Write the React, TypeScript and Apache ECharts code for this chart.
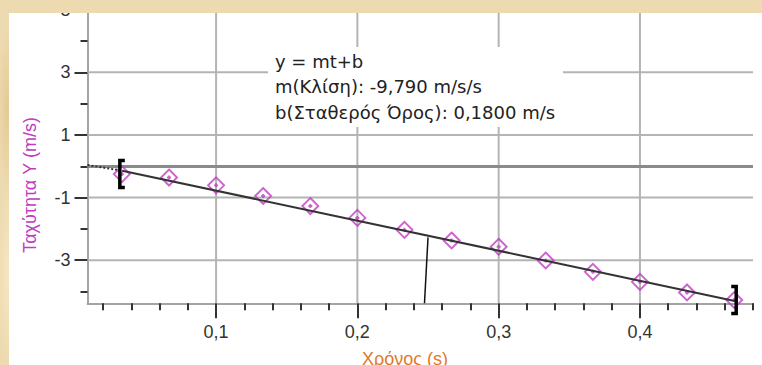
import React, { useEffect, useRef } from 'react';
import * as echarts from 'echarts';

// ---- data ----
const timeValues = [0.0333, 0.0667, 0.1, 0.1333, 0.1667, 0.2, 0.2333, 0.2667, 0.3, 0.3333, 0.3667, 0.4, 0.4333, 0.4667];
const velocityValues = [-0.25, -0.36, -0.61, -0.95, -1.27, -1.65, -2.03, -2.37, -2.57, -3.01, -3.37, -3.69, -4.03, -4.27];

const fitTimes = [0.009, 0.0335, 0.467];
const fitValues = [0.04, -0.14, -4.3];

const cursorTimes = [0.25, 0.2475];
const cursorValues = [-2.27, -4.376];

const xMajorTicks = [0.1, 0.2, 0.3, 0.4];
const xMinorTicks = [0.02, 0.04, 0.06, 0.08, 0.12, 0.14, 0.16, 0.18, 0.22, 0.24, 0.26, 0.28, 0.32, 0.34, 0.36, 0.38, 0.42, 0.44, 0.46, 0.48];
const yMajorTicks = [5, 3, 1, -1, -3];
const yMinorTicks = [4, 2, 0, -2, -4];
const yGridLines = [3, 1, -1, -3];
const xGridLines = [0.1, 0.2, 0.3, 0.4];

const xMin = 0.009;
const xMax = 0.48;
const yMin = -4.376;
const yMax = 5;

const annotationLines = ['y = mt+b', 'm(Κλίση): -9,790 m/s/s', 'b(Σταθερός Όρος): 0,1800 m/s'];
const yAxisTitle = 'Ταχύτητα Y (m/s)';
const xAxisTitle = 'Χρόνος (s)';

const FONT = '"Liberation Sans", Arial, sans-serif';
const WIDE_FONT = '"DejaVu Sans", Verdana, sans-serif';
const MAGENTA = '#c03cc0';

const parchment: React.CSSProperties = {
  backgroundColor: '#eedab0',
  backgroundImage: [
    'radial-gradient(ellipse 60px 20px at 12% 40%, rgba(215,180,115,0.55), transparent)',
    'radial-gradient(ellipse 80px 18px at 30% 20%, rgba(250,236,200,0.8), transparent)',
    'radial-gradient(ellipse 70px 15px at 48% 60%, rgba(220,188,125,0.5), transparent)',
    'radial-gradient(ellipse 90px 20px at 70% 30%, rgba(248,232,195,0.8), transparent)',
    'radial-gradient(ellipse 60px 14px at 88% 50%, rgba(218,184,120,0.5), transparent)',
    'radial-gradient(ellipse 10px 80px at 1% 30%, rgba(222,190,130,0.6), transparent)',
    'radial-gradient(ellipse 10px 90px at 1% 75%, rgba(248,232,198,0.8), transparent)',
  ].join(','),
  backgroundAttachment: 'fixed',
};

const diamondSymbol = 'path://M8,0 L16,8 L8,16 L0,8 Z M8,6 L8,10 M6,8 L10,8';

export default function App() {
  const ref = useRef<HTMLDivElement>(null);

  useEffect(() => {
    if (!ref.current) return;
    const chart = echarts.init(ref.current, null, { renderer: 'svg' });

    const points = timeValues.map((t, i) => [t, velocityValues[i]]);
    const fitPoints = fitTimes.map((t, i) => [t, fitValues[i]]);
    const cursorPoints = cursorTimes.map((t, i) => [t, cursorValues[i]]);
    const last = timeValues.length - 1;
    const bracketData = [
      [timeValues[0], velocityValues[0], -1],
      [timeValues[last], velocityValues[last], 1],
    ];

    const fmt = (v: number) => (Math.abs(v) < 1 && v !== 0 ? v.toFixed(1) : String(v)).replace('.', ',');

    const makeX = (major: boolean) => ({
      type: 'value',
      position: 'bottom',
      min: xMin,
      max: xMax,
      axisLine: { show: major, onZero: false, lineStyle: { color: '#a4a4a4', width: 2 } },
      axisTick: {
        show: true,
        customValues: major ? xMajorTicks : xMinorTicks,
        length: major ? 15 : 7,
        lineStyle: { color: '#333', width: 2 },
      },
      axisLabel: major
        ? { show: true, customValues: xMajorTicks, formatter: fmt, margin: 20, color: '#333', fontSize: 18, fontFamily: FONT }
        : { show: false },
      splitLine: { show: false },
    });

    const makeY = (major: boolean) => ({
      type: 'value',
      position: 'left',
      min: yMin,
      max: yMax,
      axisLine: { show: major, onZero: false, lineStyle: { color: '#a4a4a4', width: 2 } },
      axisTick: {
        show: true,
        customValues: major ? yMajorTicks : yMinorTicks,
        length: major ? 13 : 7,
        lineStyle: { color: '#333', width: 2 },
      },
      axisLabel: major
        ? { show: true, customValues: yMajorTicks, formatter: fmt, margin: 17, color: '#333', fontSize: 18, fontFamily: FONT }
        : { show: false },
      splitLine: { show: false },
    });

    const gridSeries = (data: number[][]) => ({
      type: 'line',
      data,
      showSymbol: false,
      symbol: 'none',
      silent: true,
      z: 4,
      lineStyle: { color: '#b4b4b4', width: 2, type: 'solid' },
    });

    chart.setOption({
      animation: false,
      grid: { left: 87.5, right: 9, top: 9.7, bottom: 61.7, containLabel: false, outerBoundsMode: 'none' },
      xAxis: [makeX(true), makeX(false)],
      yAxis: [makeY(true), makeY(false)],
      series: [
        ...yGridLines.map((v) => gridSeries([[xMin, v], [xMax, v]])),
        ...xGridLines.map((v) => gridSeries([[v, yMin], [v, yMax]])),
        {
          type: 'scatter',
          data: points,
          symbol: diamondSymbol,
          symbolSize: 16,
          itemStyle: { color: 'rgba(0,0,0,0)', borderColor: MAGENTA, borderWidth: 1.9 },
          z: 7,
          silent: true,
        },
        {
          type: 'line',
          data: fitPoints.slice(0, 2),
          showSymbol: false,
          symbol: 'none',
          lineStyle: { color: '#333', width: 2, type: 'dotted' },
          z: 8,
          silent: true,
        },
        {
          type: 'line',
          data: fitPoints.slice(1),
          showSymbol: false,
          symbol: 'none',
          lineStyle: { color: '#333', width: 2, type: 'solid' },
          z: 8,
          silent: true,
          markLine: {
            silent: true,
            z: 5,
            symbol: 'none',
            label: { show: false },
            lineStyle: { color: '#8a8a8a', width: 3, type: 'solid' },
            data: [{ yAxis: 0 }],
          },
        },
        {
          type: 'line',
          data: cursorPoints,
          showSymbol: false,
          symbol: 'none',
          lineStyle: { color: '#111', width: 1.5 },
          z: 8,
          silent: true,
        },
        {
          type: 'custom',
          clip: false,
          z: 9,
          silent: true,
          data: bracketData,
          renderItem: (params: any, api: any) => {
            const c = api.coord([api.value(0), api.value(1)]);
            const dir = api.value(2);
            const x = c[0] + dir * 2;
            const y = c[1];
            const h = 13.5;
            return {
              type: 'polyline',
              shape: {
                points: [
                  [x - dir * 5, y - h],
                  [x, y - h],
                  [x, y + h],
                  [x - dir * 5, y + h],
                ],
              },
              style: { stroke: '#000', lineWidth: 3.5, fill: 'none' },
            };
          },
        },
      ],
      graphic: [
        { type: 'rect', z: 5, silent: true, shape: { x: 268, y: 47, width: 295, height: 80 }, style: { fill: '#fff' } },
        ...annotationLines.map((t, i) => ({
          type: 'text',
          z: 6,
          silent: true,
          x: 275,
          y: 61 + i * 25.5,
          style: { text: t, fill: '#222', font: `18px ${WIDE_FONT}`, align: 'left', verticalAlign: 'middle' },
        })),
        {
          type: 'text',
          z: 6,
          silent: true,
          x: 30,
          y: 185,
          rotation: Math.PI / 2,
          style: { text: yAxisTitle, fill: MAGENTA, font: `18px ${FONT}`, align: 'center', verticalAlign: 'middle' },
        },
        {
          type: 'text',
          z: 6,
          silent: true,
          x: 405,
          y: 359,
          style: { text: xAxisTitle, fill: '#e07a2a', font: `18px ${FONT}`, align: 'center', verticalAlign: 'middle' },
        },
      ],
    });

    return () => chart.dispose();
  }, []);

  return (
    <div style={{ position: 'fixed', left: 0, top: 0, width: 762, height: 365, overflow: 'hidden', ...parchment }}>
      <div style={{ position: 'absolute', left: 9, top: 13, right: 0, bottom: 0, background: '#fff' }} />
      <div ref={ref} style={{ position: 'absolute', left: 0, top: 0, width: 762, height: 365 }} />
      <div style={{ position: 'absolute', left: 0, top: 0, width: 762, height: 13, zIndex: 2, ...parchment }} />
      <div style={{ position: 'absolute', left: 0, top: 0, width: 9, height: 365, zIndex: 2, ...parchment }} />
    </div>
  );
}
